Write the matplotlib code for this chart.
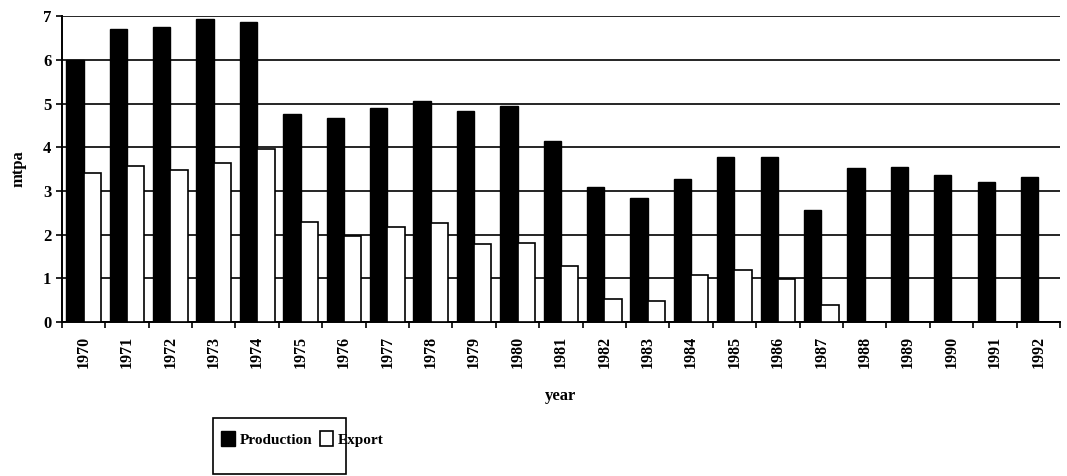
import numpy as np
import matplotlib.pyplot as plt
from matplotlib.patches import Rectangle

years = [str(y) for y in range(1970, 1993)]
production = [6.0, 6.7, 6.75, 6.93, 6.87, 4.77, 4.68, 4.9, 5.07, 4.82, 4.95, 4.15,
              3.1, 2.83, 3.28, 3.77, 3.77, 2.56, 3.52, 3.54, 3.37, 3.21, 3.32]
export = [3.4, 3.58, 3.47, 3.65, 3.96, 2.3, 1.97, 2.17, 2.26, 1.78, 1.8, 1.28,
          0.52, 0.47, 1.07, 1.2, 0.98, 0.38, 0, 0, 0, 0, 0]

plt.rcParams['font.family'] = ['Liberation Serif', 'DejaVu Serif']
plt.rcParams['font.weight'] = 'bold'

fig = plt.figure(figsize=(10.67, 4.76), dpi=100)
ax = fig.add_axes([0.058, 0.3235, 0.9354, 0.6425])

x = np.arange(len(years))
w = 0.4
ax.bar(x - 0.2, production, w, color='black', edgecolor='black', linewidth=1,
       label='Production', zorder=3)
ax.bar(x + 0.2, export, w, color='white', edgecolor='black', linewidth=1.2,
       label='Export', zorder=3)

ax.set_ylim(0, 7)
ax.set_xlim(-0.5, len(years) - 0.5)
ax.set_yticks(range(8))
ax.yaxis.grid(True, color='black', linewidth=1.2, zorder=0)
ax.set_axisbelow(True)

ax.set_xticks(x)
ax.set_xticklabels(years, rotation=90, fontsize=11.5, fontweight='bold')
ax.set_xticks(np.arange(-0.5, len(years)), minor=True)
ax.tick_params(axis='x', which='major', length=0, pad=10)
ax.tick_params(axis='x', which='minor', length=4, width=1.2, direction='out')
ax.tick_params(axis='y', length=4, width=1.2, labelsize=12)
for lab in ax.get_yticklabels():
    lab.set_fontweight('bold')

for s in ['top', 'right']:
    ax.spines[s].set_visible(False)
ax.spines['left'].set_linewidth(1.4)
ax.spines['bottom'].set_linewidth(1.4)

ax.set_ylabel('mtpa', fontsize=12, fontweight='bold', labelpad=12)
ax.set_xlabel('year', fontsize=12, fontweight='bold', labelpad=14)

fig.patches.append(Rectangle((0.2, 0.004), 0.124, 0.118, transform=fig.transFigure,
                             fill=False, edgecolor='black', linewidth=1.2))
fig.legend(loc='center left', bbox_to_anchor=(0.2, 0.078), ncol=2, frameon=False,
           fontsize=11, handlelength=0.9, handleheight=1.1, handletextpad=0.3,
           columnspacing=0.5, borderaxespad=0.1)

plt.savefig('out.png', dpi=100)
